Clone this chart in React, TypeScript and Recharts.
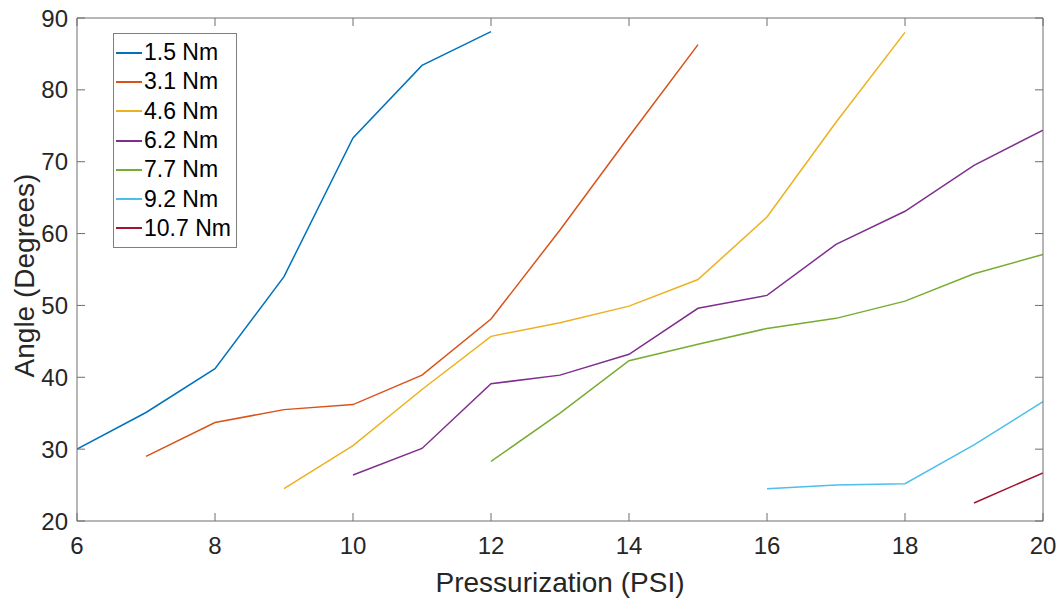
import React from "react";
import { LineChart, Line, XAxis, YAxis, Legend, Label } from "recharts";

const seriesNames = ["1.5 Nm", "3.1 Nm", "4.6 Nm", "6.2 Nm", "7.7 Nm", "9.2 Nm", "10.7 Nm"];
const seriesColors = ["#0072BD", "#D95319", "#EDB120", "#7E2F8E", "#77AC30", "#4DBEEE", "#A2142F"];

const psi15 = [6, 7, 8, 9, 10, 11, 12];
const angle15 = [30.0, 35.1, 41.2, 54.0, 73.3, 83.4, 88.1];

const psi31 = [7, 8, 9, 10, 11, 12, 13, 14, 15];
const angle31 = [29.0, 33.7, 35.5, 36.2, 40.3, 48.1, 60.5, 73.5, 86.3];

const psi46 = [9, 10, 11, 12, 13, 14, 15, 16, 17, 18];
const angle46 = [24.5, 30.5, 38.3, 45.7, 47.6, 49.9, 53.6, 62.3, 75.5, 88.0];

const psi62 = [10, 11, 12, 13, 14, 15, 16, 17, 18, 19, 20];
const angle62 = [26.4, 30.1, 39.1, 40.3, 43.2, 49.6, 51.4, 58.5, 63.1, 69.5, 74.4];

const psi77 = [12, 13, 14, 15, 16, 17, 18, 19, 20];
const angle77 = [28.3, 35.0, 42.3, 44.6, 46.8, 48.2, 50.6, 54.4, 57.1];

const psi92 = [16, 17, 18, 19, 20];
const angle92 = [24.5, 25.0, 25.2, 30.6, 36.6];

const psi107 = [19, 20];
const angle107 = [22.5, 26.7];

const xTicks = [6, 8, 10, 12, 14, 16, 18, 20];
const yTicks = [20, 30, 40, 50, 60, 70, 80, 90];

const toPoints = (xs: number[], ys: number[]) => xs.map((x, i) => ({ x, y: ys[i] }));

const seriesData = [
  toPoints(psi15, angle15),
  toPoints(psi31, angle31),
  toPoints(psi46, angle46),
  toPoints(psi62, angle62),
  toPoints(psi77, angle77),
  toPoints(psi92, angle92),
  toPoints(psi107, angle107),
];

const FONT = "'Liberation Sans', Arial, Helvetica, sans-serif";
const AXIS_COLOR = "#6f6f6f";
const TEXT_COLOR = "#262626";

const LegendBox = () => (
  <div
    style={{
      border: "1px solid #7f7f7f",
      background: "#fff",
      padding: "4px 4px 4px 2px",
      fontFamily: FONT,
      fontSize: 23,
      color: "#000",
      width: 116,
    }}
  >
    {seriesNames.map((name, i) => (
      <div key={name} style={{ display: "flex", alignItems: "center", height: 29.3 }}>
        <div style={{ width: 26, height: 2, background: seriesColors[i], marginRight: 2 }} />
        <span style={{ lineHeight: "29px", whiteSpace: "nowrap" }}>{name}</span>
      </div>
    ))}
  </div>
);

export default function App() {
  return (
    <div style={{ position: "absolute", left: 0, top: 0, width: 1063, height: 599, background: "#fff" }}>
      <LineChart width={1063} height={599} margin={{ top: 0, right: 0, bottom: 0, left: 0 }}>
        <XAxis
          xAxisId="bottom"
          type="number"
          dataKey="x"
          domain={[6, 20]}
          ticks={xTicks}
          allowDataOverflow
          orientation="bottom"
          height={78}
          stroke={AXIS_COLOR}
          tickSize={-8}
          tickMargin={24}
          tick={{ fill: TEXT_COLOR, fontSize: 24, fontFamily: FONT }}
          tickLine={{ stroke: AXIS_COLOR }}
          axisLine={{ stroke: AXIS_COLOR }}
        >
          <Label
            content={(props: any) => {
              const vb = props.viewBox || {};
              return (
                <text
                  x={vb.x + vb.width / 2}
                  y={vb.y + 71}
                  textAnchor="middle"
                  fill={TEXT_COLOR}
                  fontSize={28}
                  fontFamily={FONT}
                >
                  Pressurization (PSI)
                </text>
              );
            }}
          />
        </XAxis>
        <XAxis
          xAxisId="top"
          type="number"
          dataKey="x"
          domain={[6, 20]}
          ticks={xTicks}
          allowDataOverflow
          orientation="top"
          height={18}
          stroke={AXIS_COLOR}
          tickSize={-8}
          tickFormatter={() => ""}
          tickLine={{ stroke: AXIS_COLOR }}
          axisLine={{ stroke: AXIS_COLOR }}
        />
        <YAxis
          yAxisId="left"
          type="number"
          domain={[20, 90]}
          ticks={yTicks}
          allowDataOverflow
          orientation="left"
          width={77}
          stroke={AXIS_COLOR}
          tickSize={-8}
          tickMargin={17}
          tick={{ fill: TEXT_COLOR, fontSize: 24, fontFamily: FONT }}
          tickLine={{ stroke: AXIS_COLOR }}
          axisLine={{ stroke: AXIS_COLOR }}
        >
          <Label
            content={(props: any) => {
              const vb = props.viewBox || {};
              const cx = vb.x + 24;
              const cy = vb.y + vb.height / 2 + 6;
              return (
                <text
                  x={cx}
                  y={cy}
                  transform={`rotate(-90, ${cx}, ${cy})`}
                  textAnchor="middle"
                  dominantBaseline="central"
                  fill={TEXT_COLOR}
                  fontSize={28}
                  fontFamily={FONT}
                >
                  Angle (Degrees)
                </text>
              );
            }}
          />
        </YAxis>
        <YAxis
          yAxisId="right"
          type="number"
          domain={[20, 90]}
          ticks={yTicks}
          allowDataOverflow
          orientation="right"
          width={20}
          stroke={AXIS_COLOR}
          tickSize={-8}
          tickFormatter={() => ""}
          tickLine={{ stroke: AXIS_COLOR }}
          axisLine={{ stroke: AXIS_COLOR }}
        />
        <Legend
          layout="vertical"
          align="center"
          verticalAlign="middle"
          content={() => <LegendBox />}
          wrapperStyle={{ left: 113, top: 33, width: 122, height: "auto" }}
        />
        {seriesData.map((d, i) => (
          <Line
            key={seriesNames[i]}
            name={seriesNames[i]}
            data={d}
            dataKey="y"
            xAxisId="bottom"
            yAxisId="left"
            type="linear"
            stroke={seriesColors[i]}
            strokeWidth={1.5}
            dot={false}
            activeDot={false}
            isAnimationActive={false}
          />
        ))}
      </LineChart>
    </div>
  );
}
